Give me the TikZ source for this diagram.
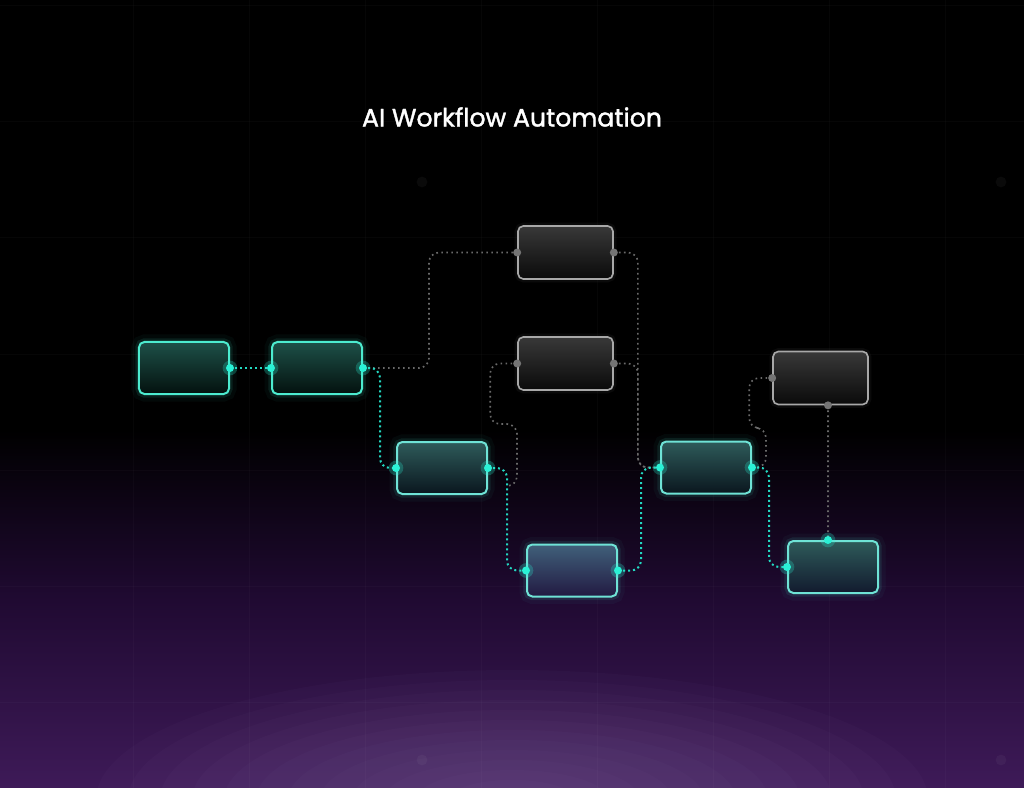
\documentclass[tikz,border=0pt]{standalone}
\usepackage{fontspec}
\setmainfont{Poppins}
\newfontfamily\titlefont{Poppins}[FakeBold=1.5]

\definecolor{bgmid}{HTML}{200A32}
\definecolor{bgpurple}{HTML}{3E1A58}
\definecolor{glowlav}{HTML}{9A82B8}
\definecolor{tealline}{HTML}{22D9C2}
\definecolor{tealport}{HTML}{2AF2D6}
\definecolor{tealedge}{HTML}{4CEBCF}
\definecolor{paleedge}{HTML}{6FE3D6}
\definecolor{greyline}{HTML}{6A6A6A}
\definecolor{greyedge}{HTML}{A8A8A8}
\definecolor{greyport}{HTML}{747474}
\definecolor{darktop}{HTML}{1D5048}
\definecolor{darkbot}{HTML}{03110E}
\definecolor{midtop}{HTML}{2E5B5A}
\definecolor{midbot}{HTML}{0A161E}
\definecolor{lowtop}{HTML}{40607A}
\definecolor{lowbot}{HTML}{221A42}
\definecolor{endbot}{HTML}{121A2E}

\tikzset{
  tealbox/.style={rectangle, rounded corners=0.16cm, minimum width=2.7cm, minimum height=1.56cm,
    draw=tealedge, line width=0.06cm,
    preaction={draw=tealedge, line width=0.45cm, opacity=0.04},
    preaction={draw=tealedge, line width=0.22cm, opacity=0.1}},
  greybox/.style={rectangle, rounded corners=0.16cm, minimum width=2.85cm, minimum height=1.59cm,
    draw=greyedge, line width=0.05cm, top color=black!78!white, bottom color=black!96!white,
    preaction={draw=white, line width=0.2cm, opacity=0.04}},
  tealwire/.style={draw=tealline, line width=0.06cm, dash pattern=on 0.06cm off 0.09cm, rounded corners=0.3cm},
  greywire/.style={draw=greyline, line width=0.05cm, dash pattern=on 0.05cm off 0.1cm, rounded corners=0.3cm}
}

\begin{document}
\begin{tikzpicture}[x=0.03cm,y=-0.03cm]
\useasboundingbox (0,0) rectangle (1024,788);
% background
\fill[black] (0,0) rectangle (1024,788);
\shade[top color=black, bottom color=bgmid] (0,430) rectangle (1024,600);
\shade[top color=bgmid, bottom color=bgpurple] (0,600) rectangle (1024,788);
\foreach \r in {10,20,...,130}
  \fill[glowlav, opacity=0.035] (512,800) ellipse ({\r*3.2} and \r);
\foreach \x in {133,249,...,1024}
  \draw[white, opacity=0.025, line width=0.03cm] (\x,0) -- (\x,788);
\foreach \y in {6,122,...,788}
  \draw[white, opacity=0.025, line width=0.03cm] (0,\y) -- (1024,\y);
\foreach \p in {(422,182),(1001,182),(422,760),(1001,760)}
  \fill[white, opacity=0.04] \p circle (0.16cm);

\node[text=white, font=\titlefont\fontsize{21.5}{25}\selectfont] (title) at (512,117) {AI Workflow Automation};

% steps
\node[tealbox, top color=darktop, bottom color=darkbot] (T1) at (184,368) {};
\node[tealbox, top color=darktop, bottom color=darkbot] (T2) at (317,368) {};
\node[tealbox, draw=paleedge, top color=midtop, bottom color=midbot] (T3) at (442,468) {};
\node[tealbox, draw=paleedge, top color=lowtop, bottom color=lowbot] (T4) at (572,570.5) {};
\node[tealbox, draw=paleedge, top color=midtop, bottom color=midbot] (T5) at (706,467.5) {};
\node[tealbox, draw=paleedge, top color=midtop, bottom color=endbot] (T6) at (833,567) {};
\node[greybox] (G1) at (565.5,252.5) {};
\node[greybox] (G2) at (565.5,363.5) {};
\node[greybox] (G3) at (820.5,378) {};
\coordinate (j1) at (506,486);

% links
\draw[greywire] (T2.east) -- ++(66,0) |- (G1.west);
\draw[greywire] (G1.east) -- ++(24,0) |- (T5.west);
\draw[greywire] (G2.east) -- ++(24,0) |- (T5.west);
\draw[greywire] (G2.west) -- ++(-27,0) |- (517,424) |- (j1);
\draw[greywire] (G3.west) -- ++(-23,0) |- (766,428) |- (T5.east);
\draw[greywire] ([xshift=0.225cm]G3.south) -- ([xshift=-0.15cm]T6.north);

\draw[tealwire] (T1.east) -- (T2.west);
\draw[tealwire] (T2.east) -- ++(17,0) |- (T3.west);
\draw[tealwire] (T3.east) -- ++(19,0) |- (T4.west);
\draw[tealwire] (T4.east) -- ++(23,0) |- (T5.west);
\draw[tealwire] (T5.east) -- ++(17,0) |- (T6.west);

% ports
\foreach \p in {(T1.east),(T2.west),(T2.east),(T3.west),(T3.east),(T4.west),(T4.east),(T5.west),(T5.east),(T6.west),([xshift=-0.15cm]T6.north)}{
  \fill[tealport, opacity=0.25] \p circle (0.22cm);
  \fill[tealport] \p circle (0.12cm);
}
\foreach \p in {(G1.west),(G1.east),(G2.west),(G2.east),(G3.west),([xshift=0.225cm]G3.south)}
  \fill[greyport] \p circle (0.12cm);
\end{tikzpicture}
\end{document}
